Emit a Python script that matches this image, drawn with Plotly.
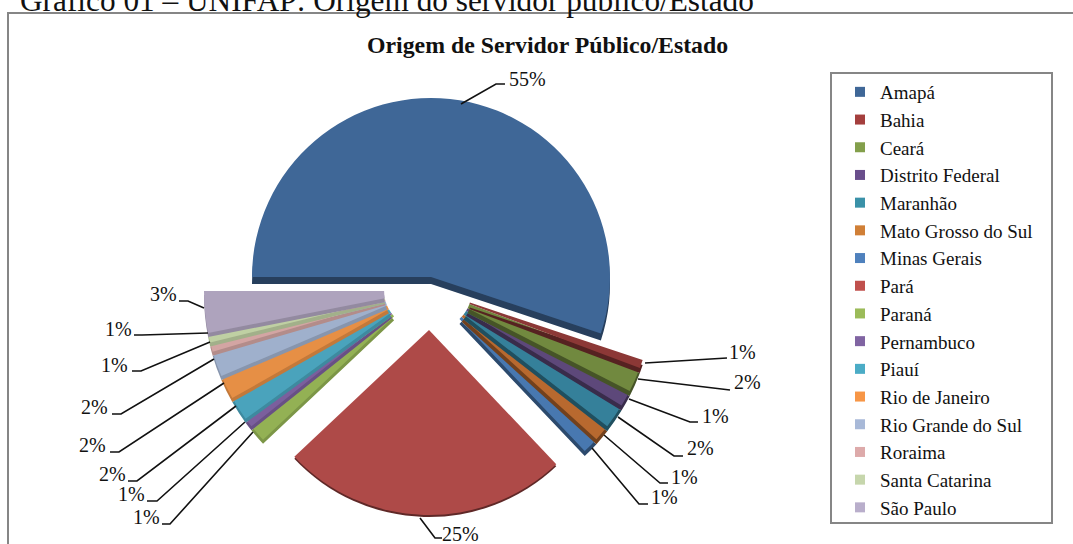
import plotly.graph_objects as go

W, H = 1073, 544
FONT = "Liberation Serif"

# ---- data ----
states = ["Amapá", "Bahia", "Ceará", "Distrito Federal", "Maranhão", "Mato Grosso do Sul",
          "Minas Gerais", "Pará", "Paraná", "Pernambuco", "Piauí", "Rio de Janeiro",
          "Rio Grande do Sul", "Roraima", "Santa Catarina", "São Paulo"]
shares = [55, 0.6, 1.8, 1.2, 1.8, 1.2, 1.2, 25, 1.3, 0.7, 1.8, 1.8, 1.9, 0.7, 0.7, 3.1]
percent_labels = ["55%", "1%", "2%", "1%", "2%", "1%", "1%", "25%",
                  "1%", "1%", "2%", "2%", "2%", "1%", "1%", "3%"]
chart_title = "Origem de Servidor Público/Estado"
caption = "Gráfico 01 – UNIFAP: Origem do servidor público/Estado"

# ---- styles ----
slice_colors = ["#3F6797", "#8C3836", "#71893F", "#5D487A", "#35809A", "#B8692F", "#4878B0", "#AE4A48",
                "#93B154", "#7B5F9D", "#4AA3BC", "#E68F45", "#9FB0CC", "#D3A5A3", "#BFD0A3", "#AEA3BD"]
legend_colors = ["#3F6797", "#A43F3D", "#839F4B", "#6A4E8C", "#3A91A8", "#D07F36", "#4F81BD", "#C0504D",
                 "#9BBB59", "#8064A2", "#4BACC6", "#F79646", "#A8B9D8", "#DDAAAA", "#C6D6AC", "#B9AECB"]

def darker(c, f):
    r, g, b = int(c[1:3], 16), int(c[3:5], 16), int(c[5:7], 16)
    return f"rgb({int(r*f)},{int(g*f)},{int(b*f)})"

def px(x): return x / W
def py(y): return 1 - y / H

# exploded pie geometry in page pixels: the pieces are separate pies sharing the same angles
PIECES = {
    "main":  dict(cx=431, cy=277, r=179, hole=0, depth=7, shade=0.62),
    "right": dict(cx=432, cy=290, r=222, hole=0.18, depth=5, shade=0.62),
    "para":  dict(cx=429, cy=330, r=185, hole=0, depth=2, shade=0.55),
    "left":  dict(cx=421, cy=291, r=217, hole=0.17, depth=4, shade=0.85),
}
# (slice index, piece) in painting order, so that each slice's edge lies over its neighbour
paint_order = [(0, "main"), (7, "para")] + [(i, "right") for i in range(6, 0, -1)] \
              + [(i, "left") for i in range(8, 16)]

CLEAR = "rgba(0,0,0,0)"
fig = go.Figure()

def add_slice(i, p, dy, color):
    fig.add_trace(go.Pie(
        labels=states, values=shares, sort=False, direction="clockwise", rotation=270,
        hole=p["hole"], textinfo="none", showlegend=False, hoverinfo="skip" if dy else "label+percent",
        marker=dict(colors=[color if j == i else CLEAR for j in range(len(states))], line=dict(width=0)),
        domain=dict(x=[px(p["cx"] - p["r"]), px(p["cx"] + p["r"])],
                    y=[py(p["cy"] + dy + p["r"]), py(p["cy"] + dy - p["r"])]),
    ))

for i, name in paint_order:
    piece = PIECES[name]
    add_slice(i, piece, piece["depth"], darker(slice_colors[i], piece["shade"]))
    add_slice(i, piece, 0, slice_colors[i])

for name, col in zip(states, legend_colors):
    fig.add_trace(go.Scatter(
        x=[None], y=[None], mode="markers", name=name, legendgroup=name,
        marker=dict(symbol="square", size=10, color=col),
    ))

# leader lines: label anchor positions in page pixels, one per slice, in slice order
leaders = [
    [(461, 104), (496, 84), (505, 84)],
    [(645, 363), (727, 358)],
    [(638, 379), (730, 390)],
    [(629, 399), (690, 422), (698, 422)],
    [(618, 417), (674, 456), (683, 456)],
    [(604, 435), (660, 483), (668, 483)],
    [(592, 448), (639, 504), (648, 504)],
    [(420, 518), (435, 538), (442, 538)],
    [(253, 432), (170, 524), (162, 524)],
    [(245, 422), (157, 501), (147, 501)],
    [(236, 406), (137, 481), (128, 481)],
    [(224, 383), (119, 452), (110, 452)],
    [(214, 359), (121, 414), (112, 414)],
    [(210, 342), (141, 371), (132, 371)],
    [(208, 333), (142, 335), (134, 335)],
    [(204, 308), (188, 301), (179, 301)],
]
label_centers = [(527, 79), (742, 352), (747, 382), (715, 416), (700, 448), (684, 477), (664, 497),
                 (460, 534), (146, 517), (131, 494), (112, 474), (92, 445), (94, 407), (114, 365),
                 (118, 329), (163, 294)]

shapes = [
    dict(type="rect", xref="paper", yref="paper", x0=px(8), x1=px(1080), y0=py(13), y1=py(560),
         line=dict(color="#868686", width=2), fillcolor="rgba(0,0,0,0)", layer="below"),
    dict(type="rect", xref="paper", yref="paper", x0=px(831), x1=px(1052), y0=py(73), y1=py(523),
         line=dict(color="#868686", width=2), fillcolor="white", layer="below"),
]
for pts in leaders:
    path = "M" + " L".join(f"{px(x):.5f},{py(y):.5f}" for x, y in pts)
    shapes.append(dict(type="path", xref="paper", yref="paper", path=path,
                       line=dict(color="#111111", width=1.6)))

annotations = [dict(text=t, x=px(x), y=py(y), xref="paper", yref="paper", showarrow=False,
                    xanchor="center", yanchor="middle", font=dict(family=FONT, size=20, color="#111111"))
               for t, (x, y) in zip(percent_labels, label_centers)]
annotations.append(dict(text=caption, x=px(18), y=py(20), xref="paper", yref="paper", showarrow=False,
                        xanchor="left", yanchor="bottom", font=dict(family=FONT, size=31.3, color="#111111")))
annotations.append(dict(text=f"<b>{chart_title}</b>", x=px(547), y=py(45), xref="paper", yref="paper",
                        showarrow=False, xanchor="center", yanchor="middle",
                        font=dict(family=FONT, size=23.8, color="#111111")))

fig.update_layout(
    width=W, height=H, autosize=False, margin=dict(l=0, r=0, t=0, b=0),
    paper_bgcolor="white", plot_bgcolor="white",
    xaxis=dict(visible=False), yaxis=dict(visible=False),
    shapes=shapes, annotations=annotations,
    legend=dict(x=px(840), y=py(73), xanchor="left", yanchor="top", maxheight=540,
                bgcolor="rgba(0,0,0,0)", borderwidth=0, tracegroupgap=0,
                font=dict(family=FONT, size=19, color="#111111"), itemclick=False),
)

fig.write_html("out.html", config={"displayModeBar": False},
               post_script="document.body.style.margin='0';document.body.style.overflow='hidden';")
